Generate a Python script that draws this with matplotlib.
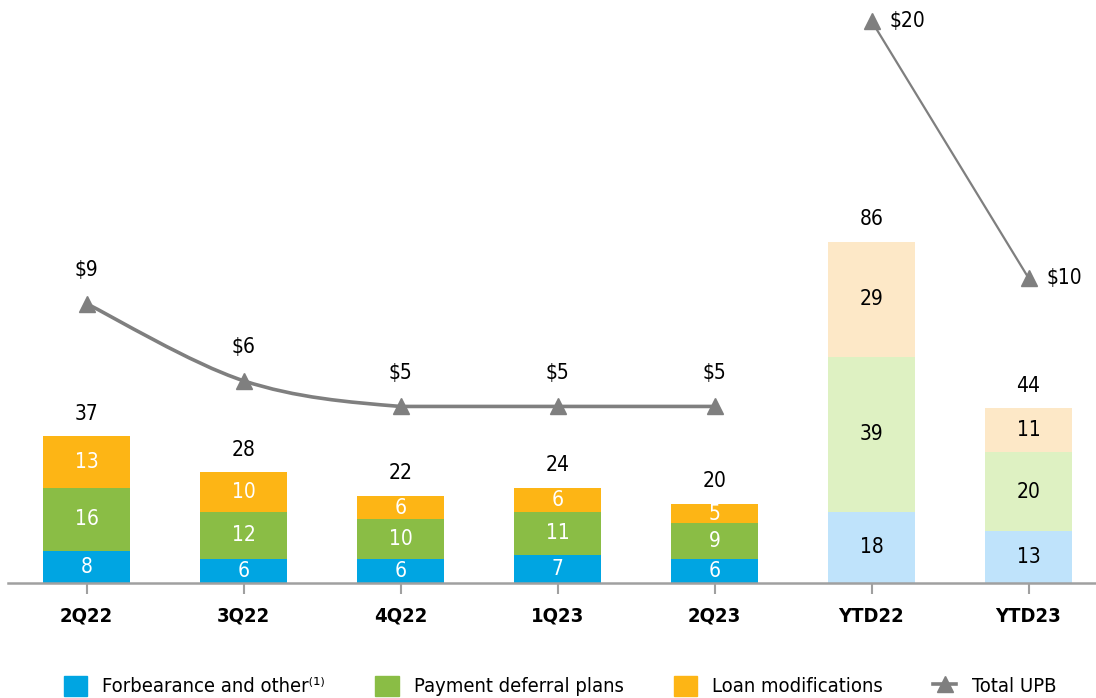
import numpy as np
import matplotlib
matplotlib.use("Agg")
import matplotlib.pyplot as plt
from matplotlib.path import Path
from matplotlib.patches import PathPatch, Patch
from matplotlib.lines import Line2D

plt.rcParams['font.family'] = ['DejaVu Sans']
plt.rcParams['font.stretch'] = 'condensed'

# data
categories = ['2Q22', '3Q22', '4Q22', '1Q23', '2Q23', 'YTD22', 'YTD23']
forbearance = [8, 6, 6, 7, 6, 18, 13]
deferral = [16, 12, 10, 11, 9, 39, 20]
loan_mod = [13, 10, 6, 6, 5, 29, 11]
totals = [37, 28, 22, 24, 20, 86, 44]
upb = [9, 6, 5, 5, 5, 20, 10]
n_quarters = 5

dark = ['#00A5E2', '#8ABD45', '#FDB515']
light = ['#BFE3FB', '#DEF1C2', '#FDE8C7']
gray = '#7F7F7F'

fig = plt.figure(figsize=(10.96, 6.98), dpi=100)
W, H = 1096, 698
ax = fig.add_axes([8 / W, (H - 583) / H, 1088 / W, 583 / H])
ax2 = ax.twinx()

x = np.arange(len(categories))
width = 0.55
bottom = np.zeros(len(categories))
for vals, dc, lc in zip([forbearance, deferral, loan_mod], dark, light):
    cols = [dc if i < n_quarters else lc for i in range(len(categories))]
    ax.bar(x, vals, width, bottom=bottom, color=cols, zorder=2)
    for i, v in enumerate(vals):
        tc = 'white' if i < n_quarters else 'black'
        ax.text(x[i], bottom[i] + v / 2, str(v), ha='center', va='center',
                fontsize=15, color=tc, zorder=3)
    bottom += np.array(vals)

for i, t in enumerate(totals):
    ax.annotate(str(t), (x[i], t), xytext=(0, 16), textcoords='offset points',
                ha='center', va='center', fontsize=15, color='black')

ax.set_xlim(-0.5, -0.5 + 1088 / 157)
ax.set_ylim(0, 583 / 3.97)
ax.set_xticks(x)
ax.set_xticklabels(categories, fontsize=14.5, fontweight='bold')
ax.tick_params(axis='x', length=8, width=1.5, color='#A0A0A0', pad=9)
ax.tick_params(axis='y', left=False, labelleft=False)
for s in ['top', 'left', 'right']:
    ax.spines[s].set_visible(False)
ax.spines['bottom'].set_color('#A0A0A0')
ax.spines['bottom'].set_linewidth(1.8)

# smoothed line for the quarters (Catmull-Rom style Bezier through the points)
qx = x[:n_quarters].astype(float)
qy = np.array(upb[:n_quarters], dtype=float)
pts = np.column_stack([qx, qy])
verts = [pts[0]]
codes = [Path.MOVETO]
for i in range(len(pts) - 1):
    p0 = pts[max(i - 1, 0)]
    p1 = pts[i]
    p2 = pts[i + 1]
    p3 = pts[min(i + 2, len(pts) - 1)]
    c1 = p1 + (p2 - p0) / 6
    c2 = p2 - (p3 - p1) / 6
    c1[1] = min(max(c1[1], min(p1[1], p2[1])), max(p1[1], p2[1]))
    c2[1] = min(max(c2[1], min(p1[1], p2[1])), max(p1[1], p2[1]))
    verts += [c1, c2, p2]
    codes += [Path.CURVE4] * 3
ax2.add_patch(PathPatch(Path(verts, codes), fill=False, edgecolor=gray,
                        lw=2.6, zorder=4))
ax2.plot(qx, qy, linestyle='none', marker='^', ms=11, color=gray, zorder=5)
ax2.plot(x[n_quarters:], upb[n_quarters:], '-^', lw=1.6, ms=11, color=gray, zorder=5)

for i, v in enumerate(upb):
    lab = '$' + str(v)
    if i < n_quarters:
        ax2.annotate(lab, (x[i], v), xytext=(0, 24), textcoords='offset points',
                     ha='center', va='center', fontsize=15, parse_math=False)
    else:
        ax2.annotate(lab, (x[i], v), xytext=(13, 0), textcoords='offset points',
                     ha='left', va='center', fontsize=15, parse_math=False)

ax2.set_ylim(-1.87, 583 / 25.7 - 1.87)
ax2.axis('off')

handles = [Patch(color=dark[0]), Patch(color=dark[1]), Patch(color=dark[2]),
           Line2D([], [], color=gray, lw=2.6, marker='^', ms=11)]
labels = ['Forbearance and other\u207d\u00b9\u207e', 'Payment deferral plans',
          'Loan modifications', 'Total UPB']
fig.legend(handles, labels, loc='center', bbox_to_anchor=(0.511, 12 / H), ncol=4,
           frameon=False, fontsize=14.5, handlelength=1.15, handleheight=1.15,
           handletextpad=0.75, columnspacing=2.5)

fig.savefig('out.png', dpi=100)
